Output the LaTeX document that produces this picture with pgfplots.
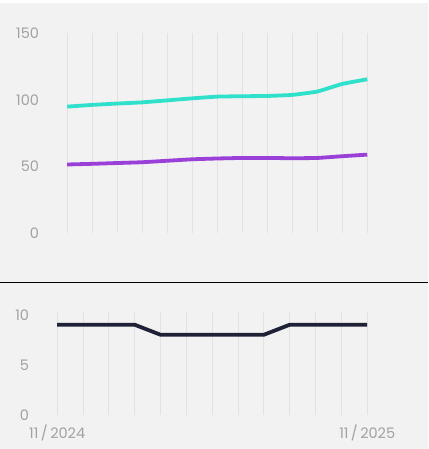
\documentclass[border=0pt]{standalone}
\usepackage{pgfplots}
\pgfplotsset{compat=1.18}
\usepackage{fontspec}
\setmainfont{Poppins}
\definecolor{bg}{HTML}{F2F2F2}
\definecolor{gridc}{HTML}{E2E2E2}
\definecolor{tickc}{HTML}{A2A2A2}
\definecolor{teal}{HTML}{2FE0CB}
\definecolor{purp}{HTML}{9A3FD8}
\definecolor{navy}{HTML}{1F2236}
\pgfplotsset{
  base/.style={
    scale only axis, axis line style={draw=none},
    xmin=0, xmax=12, clip=false,
    xtick={0,...,12}, xmajorgrids,
    major grid style={gridc, line width=0.8pt},
    tick style={draw=none},
    ticklabel style={font=\fontsize{14.5}{16}\selectfont, text=tickc},
    /pgf/number format/assume math mode=true,
    yticklabel style={anchor=east, inner sep=0pt, xshift=-28pt},
  }
}
\begin{document}
\begin{tikzpicture}[x=1pt,y=1pt]
\fill[bg] (0,0) rectangle (427,449);
\fill[white] (0,446) rectangle (427,449);
\draw[black, line width=1pt] (0,166) -- (427,166);
\begin{axis}[base, at={(66.7pt,215.7pt)}, anchor=origin,
  width=300pt, height=200pt, ymin=0, ymax=150,
  ytick={0,50,100,150}, xticklabels={}]
\addplot[teal, line width=3.8pt, smooth, tension=0.25] coordinates {
(0,95) (1,96.3) (2,97.3) (3,98.2) (4,99.7) (5,101.2) (6,102.5) (7,102.8) (8,103) (9,103.8) (10,106.3) (11,112) (12,115.5)};
\addplot[purp, line width=3.8pt, smooth, tension=0.25] coordinates {
(0,51.6) (1,52.1) (2,52.7) (3,53.3) (4,54.4) (5,55.5) (6,56.1) (7,56.5) (8,56.5) (9,56.3) (10,56.5) (11,57.8) (12,59)};
\end{axis}
\begin{axis}[base, at={(56.7pt,34pt)}, anchor=origin,
  width=310pt, height=103.3pt, ymin=0, ymax=10.3,
  ytick={0,5,10},
  xticklabels={11\,/\,2024,,,,,,,,,,,,11\,/\,2025},
  xticklabel style={anchor=center, inner sep=0pt, yshift=-17.7pt}]
\addplot[navy, line width=3.8pt] coordinates {
(0,9) (1,9) (2,9) (3,9) (4,8) (5,8) (6,8) (7,8) (8,8) (9,9) (10,9) (11,9) (12,9)};
\end{axis}
\end{tikzpicture}
\end{document}
